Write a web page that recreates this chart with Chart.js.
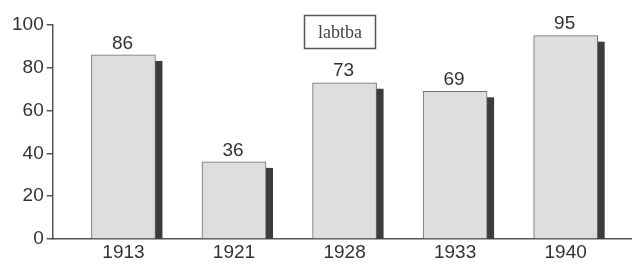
<!DOCTYPE html>
<html>
<head>
<meta charset="utf-8">
<script src="https://cdn.jsdelivr.net/npm/chart.js@4.4.0/dist/chart.umd.min.js"></script>
<style>
  html, body { margin: 0; padding: 0; background: #fff; }
  #wrap { width: 632px; height: 266px; }
</style>
</head>
<body>
<div id="wrap"><canvas id="chart"></canvas></div>
<script>
// data
const years = ['1913', '1921', '1928', '1933', '1940'];
const values = [86, 36, 73, 69, 95];
const yTicks = [0, 20, 40, 60, 80, 100];
const legendText = 'labtba';

const points = values.map((v, i) => ({ x: i + 1, y: v }));

// dark shadow to the right of each bar, from the bar element geometry
const shadowPlugin = {
  id: 'shadow',
  beforeDatasetsDraw(chart) {
    const ctx = chart.ctx;
    const base = chart.scales.y.getPixelForValue(0);
    ctx.save();
    ctx.fillStyle = '#3c3c3c';
    chart.getDatasetMeta(0).data.forEach(bar => {
      const right = bar.x + bar.width / 2;
      ctx.fillRect(right - 1, bar.y + 6, 8, base - bar.y - 6);
    });
    ctx.restore();
  },
  afterDatasetsDraw(chart) {
    const ctx = chart.ctx;
    ctx.save();
    ctx.fillStyle = '#333';
    ctx.font = '19px "Liberation Sans", Arial, sans-serif';
    ctx.textAlign = 'center';
    ctx.textBaseline = 'bottom';
    chart.getDatasetMeta(0).data.forEach((bar, i) => {
      ctx.fillText(values[i], bar.x - 1, bar.y - 2);
    });
    // legend box
    ctx.strokeStyle = '#555';
    ctx.lineWidth = 1.5;
    ctx.strokeRect(304.5, 15.5, 71, 33);
    ctx.fillStyle = '#444';
    ctx.font = '18px "Liberation Serif", "DejaVu Serif", serif';
    ctx.textBaseline = 'middle';
    ctx.fillText(legendText, 340, 33);
    ctx.restore();
  }
};

new Chart(document.getElementById('chart'), {
  type: 'bar',
  data: {
    datasets: [{
      data: points,
      backgroundColor: '#dedede',
      borderColor: '#6e6e6e',
      borderWidth: 1,
      barThickness: 64,
      borderSkipped: 'bottom'
    }]
  },
  options: {
    responsive: true,
    maintainAspectRatio: false,
    animation: false,
    layout: { padding: { top: 25, left: 9, right: 0, bottom: 0 } },
    plugins: { legend: { display: false }, tooltip: { enabled: false } },
    scales: {
      x: {
        type: 'linear',
        offset: false,
        min: 0.36,
        max: 5.6,
        grid: { display: false, drawTicks: false },
        border: { display: true, color: '#555', width: 1.5 },
        afterBuildTicks(axis) {
          axis.ticks = years.map((y, i) => ({ value: i + 1 }));
        },
        ticks: {
          color: '#333',
          padding: 5,
          autoSkip: false,
          maxRotation: 0,
          font: { family: '"Liberation Sans", Arial, sans-serif', size: 19, lineHeight: 0.9 },
          callback: (v) => years[v - 1]
        }
      },
      y: {
        min: 0,
        max: 100,
        grid: { display: true, drawOnChartArea: false, drawTicks: true, tickLength: 6, color: '#555', lineWidth: 1.5 },
        border: { display: true, color: '#555', width: 1.5 },
        afterBuildTicks(axis) {
          const t = [];
          for (let v = 0; v <= 100; v += 10) t.push({ value: v });
          axis.ticks = t;
        },
        ticks: {
          color: '#333',
          padding: 3,
          font: { family: '"Liberation Sans", Arial, sans-serif', size: 19 },
          callback: (v) => yTicks.includes(v) ? String(v) : ''
        }
      }
    }
  },
  plugins: [shadowPlugin]
});
</script>
</body>
</html>
